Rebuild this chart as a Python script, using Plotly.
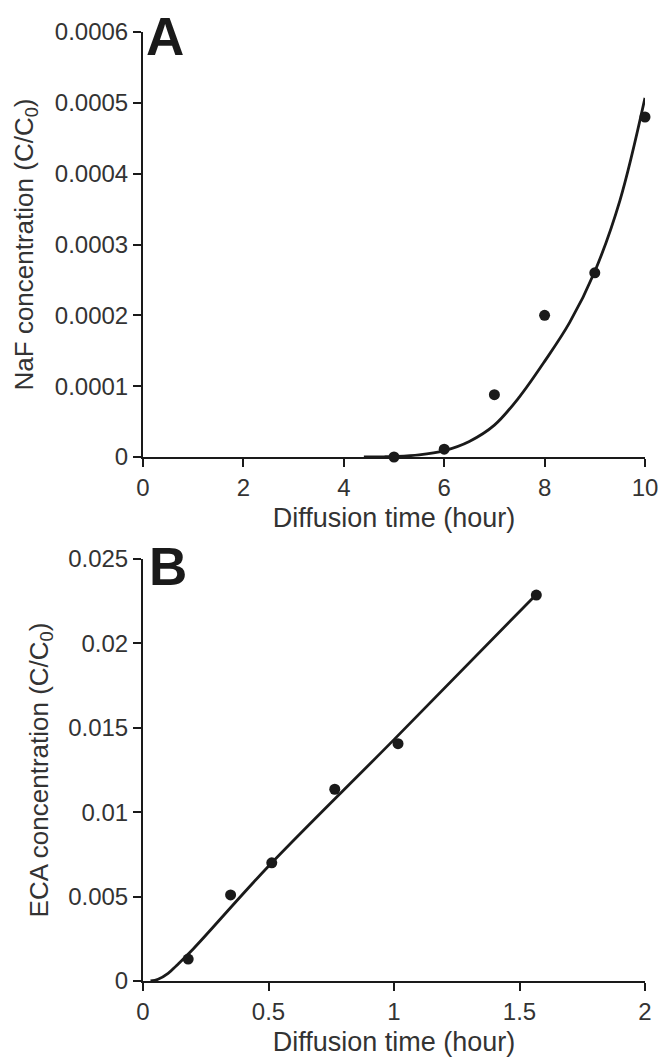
import plotly.graph_objects as go

# ---------------- Data ----------------
# Panel A: NaF
naf_time = [5, 6, 7, 8, 9, 10]
naf_conc = [0.0, 0.000011, 0.000088, 0.0002, 0.00026, 0.00048]
naf_fit_time = [4.4, 4.8, 5.0, 5.5, 6.0, 6.5, 7.0, 7.5, 8.0, 8.5, 9.0, 9.5, 10.0]
naf_fit_conc = [0.0, 0.0000003, 0.0000007, 0.000003, 0.000009, 0.000022, 0.000045,
                0.000085, 0.000135, 0.00019, 0.000262, 0.000362, 0.000507]

# Panel B: ECA
eca_time = [0.18, 0.349, 0.513, 0.764, 1.016, 1.567]
eca_conc = [0.0013, 0.0051, 0.0070, 0.01136, 0.01406, 0.02286]
eca_fit_time = [0.03, 0.06, 0.1, 0.133, 0.2, 0.5, 1.0, 1.567]
eca_fit_conc = [0.0, 0.0001, 0.00045, 0.00091, 0.0019, 0.0068, 0.0143, 0.0229]

naf_xticks = [0, 2, 4, 6, 8, 10]
naf_yticks = [0, 0.0001, 0.0002, 0.0003, 0.0004, 0.0005, 0.0006]
naf_yticktext = ["0", "0.0001", "0.0002", "0.0003", "0.0004", "0.0005", "0.0006"]
eca_xticks = [0, 0.5, 1, 1.5, 2]
eca_xticktext = ["0", "0.5", "1", "1.5", "2"]
eca_yticks = [0, 0.005, 0.01, 0.015, 0.02, 0.025]
eca_yticktext = ["0", "0.005", "0.01", "0.015", "0.02", "0.025"]

x_title = "Diffusion time (hour)"
naf_ytitle = "NaF concentration (C/C<sub>0</sub>)"
eca_ytitle = "ECA concentration (C/C<sub>0</sub>)"

# ---------------- Styling ----------------
FONT = "Liberation Sans, Arial, Helvetica, sans-serif"
TXT = "#333333"
INK = "#1a1a1a"

fig = go.Figure()

fig.add_trace(go.Scatter(x=naf_fit_time, y=naf_fit_conc, mode="lines",
                         line=dict(color=INK, width=2.8, shape="spline", smoothing=1),
                         xaxis="x", yaxis="y", showlegend=False, cliponaxis=False))
fig.add_trace(go.Scatter(x=naf_time, y=naf_conc, mode="markers",
                         marker=dict(color=INK, size=11),
                         xaxis="x", yaxis="y", showlegend=False, cliponaxis=False))
fig.add_trace(go.Scatter(x=eca_fit_time, y=eca_fit_conc, mode="lines",
                         line=dict(color=INK, width=2.8, shape="spline", smoothing=1),
                         xaxis="x2", yaxis="y2", showlegend=False, cliponaxis=False))
fig.add_trace(go.Scatter(x=eca_time, y=eca_conc, mode="markers",
                         marker=dict(color=INK, size=11),
                         xaxis="x2", yaxis="y2", showlegend=False, cliponaxis=False))

W, H = 660, 1057
ml, mt = 143, 32
mr = W - 645
mb = H - 981
ph = H - mt - mb
pw = W - ml - mr

def py(pix):
    return 1 - (pix - mt) / ph

def px(pix):
    return (pix - ml) / pw

axis_common = dict(showline=True, linecolor=INK, linewidth=2, ticks="outside",
                   ticklen=8, tickwidth=2, tickcolor=INK, showgrid=False,
                   zeroline=False, tickfont=dict(family=FONT, size=24, color=TXT),
                   automargin=False, mirror=False)

fig.update_layout(
    width=W, height=H,
    margin=dict(l=ml, r=mr, t=mt, b=mb),
    paper_bgcolor="white", plot_bgcolor="white",
    font=dict(family=FONT, color=TXT),
    xaxis=dict(domain=[0, 1], range=[0, 10], anchor="y", tickvals=naf_xticks,
               ticktext=[str(v) for v in naf_xticks],
               title=dict(text=x_title, font=dict(family=FONT, size=27, color=TXT), standoff=8),
               **axis_common),
    yaxis=dict(domain=[py(457), 1], range=[0, 0.0006], anchor="x", tickvals=naf_yticks,
               ticktext=naf_yticktext,
               title=dict(text=naf_ytitle, font=dict(family=FONT, size=26, color=TXT), standoff=14),
               **axis_common),
    xaxis2=dict(domain=[0, 1], range=[0, 2], anchor="y2", tickvals=eca_xticks,
                ticktext=eca_xticktext,
                title=dict(text=x_title, font=dict(family=FONT, size=27, color=TXT), standoff=8),
                **axis_common),
    yaxis2=dict(domain=[0, py(559)], range=[0, 0.025], anchor="x2", tickvals=eca_yticks,
                ticktext=eca_yticktext,
                title=dict(text=eca_ytitle, font=dict(family=FONT, size=26, color=TXT), standoff=12),
                **axis_common),
    annotations=[
        dict(text="<b>A</b>", xref="paper", yref="paper", x=px(144),
             y=py(5), xanchor="left", yanchor="top", showarrow=False,
             font=dict(family=FONT, size=53, color=INK)),
        dict(text="<b>B</b>", xref="paper", yref="paper", x=px(147),
             y=py(535), xanchor="left", yanchor="top", showarrow=False,
             font=dict(family=FONT, size=53, color=INK)),
    ],
)

# remove the default 8px page margin so the figure exactly fills the window
fig.write_html("out.html", config={"displayModeBar": False},
               post_script="document.body.style.margin='0px';")
